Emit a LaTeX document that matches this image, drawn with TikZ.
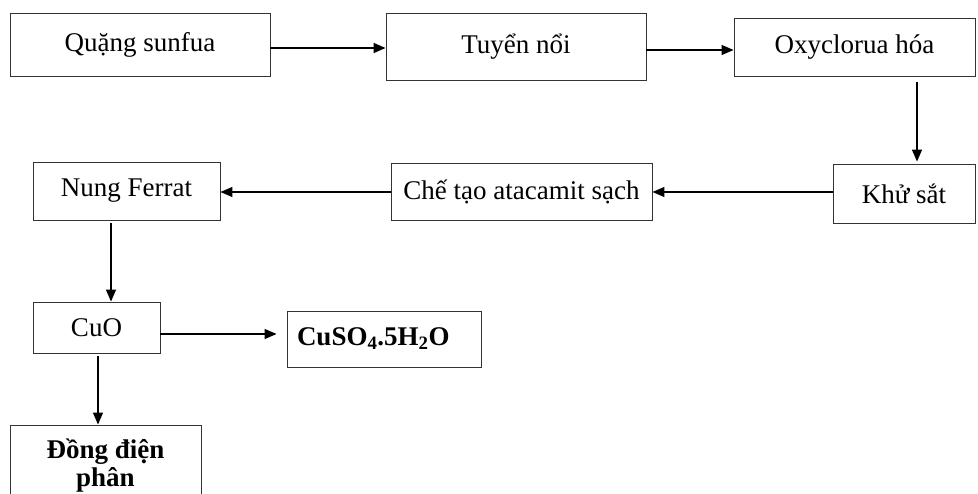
\documentclass[tikz,border=0pt]{standalone}
\usepackage{fontspec}
\setmainfont{Liberation Serif}
\usetikzlibrary{arrows.meta}
\begin{document}
\begin{tikzpicture}[x=1pt,y=-1pt,
  box/.style={draw=black!80, line width=0.9pt, rectangle, inner sep=0pt,
              font=\fontsize{27}{31}\selectfont},
  arr/.style={line width=1.4pt, -{Triangle[length=12pt,width=10pt]}}]
\useasboundingbox (0,0) rectangle (978,494);
\clip (0,0) rectangle (978,494);
% row 1
\node[box, minimum width=260pt, minimum height=63pt] (q1) at (140,44.5) {Quặng sunfua};
\node[box, minimum width=260pt, minimum height=67pt] (t2) at (516,46.5) {Tuyển nổi};
\node[box, minimum width=241pt, minimum height=58pt] (o3) at (854.5,47) {Oxyclorua hóa};
% row 2
\node[box, minimum width=142pt, minimum height=59pt] (k4) at (904,193.5) {Khử sắt};
\node[box, minimum width=261pt, minimum height=57pt] (c5) at (521.5,191.5) {Chế tạo atacamit sạch};
\node[box, minimum width=187pt, minimum height=58pt] (n6) at (126.5,191) {Nung Ferrat};
% row 3
\node[box, minimum width=127pt, minimum height=51pt] (cuo) at (96.5,327.5) {CuO};
\node[box, minimum width=194pt, minimum height=56pt, text width=174pt, align=left,
      inner xsep=10pt] (cuso) at (384,339) {\textbf{CuSO\textsubscript{4}.5H\textsubscript{2}O}};
% row 4
\node[box, minimum width=191pt, minimum height=82pt, align=center,
      font=\bfseries\fontsize{27}{28}\selectfont] (dong) at (105.5,466) {Đồng điện\\phân};
% connectors
\draw[arr] (q1.east |- 0,48) -- (t2.west |- 0,48);
\draw[arr] (t2.east |- 0,50) -- (o3.west |- 0,50);
\draw[arr] ([yshift=-6pt]o3.south -| 917,0) -- ([yshift=2pt]k4.north -| 917,0);
\draw[arr] (k4.west |- 0,192) -- (c5.east |- 0,192);
\draw[arr] (c5.west |- 0,192) -- (n6.east |- 0,192);
\draw[arr] ([yshift=-3pt]n6.south -| 111,0) -- (cuo.north -| 111,0);
\draw[arr] (cuo.east |- 0,334) -- ([xshift=-10pt]cuso.west |- 0,334);
\draw[arr] ([yshift=-3pt]cuo.south -| 98,0) -- (dong.north -| 98,0);
\end{tikzpicture}
\end{document}
